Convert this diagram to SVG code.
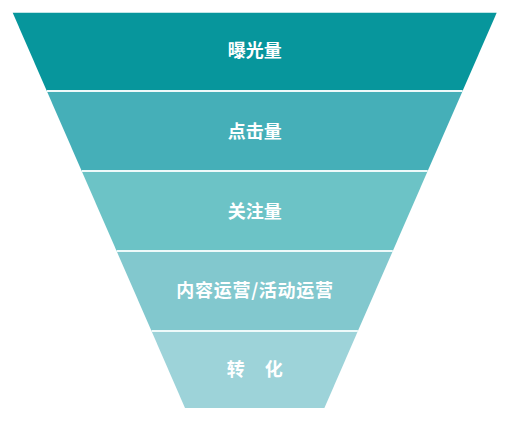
<svg xmlns="http://www.w3.org/2000/svg" width="505" height="423" viewBox="0 0 505 423">
<style>
.lbl{font-family:"Noto Sans CJK SC","Noto Sans",sans-serif;font-size:18px;font-weight:bold;fill:#ffffff;text-anchor:middle;dominant-baseline:central}
.sep{stroke:#eefafa;stroke-width:2}
</style>
<rect width="505" height="423" fill="#ffffff"/>
<g id="band1">
<polygon points="12.7,12.7 496.7,12.7 462.6,91 46.8,91" fill="#07969c"/>
<text class="lbl" x="254.7" y="49">曝光量</text>
</g>
<g id="band2">
<polygon points="46.8,91 462.6,91 427.7,171 81.7,171" fill="#45afb8"/>
<text class="lbl" x="254.7" y="130">点击量</text>
</g>
<g id="band3">
<polygon points="81.7,171 427.7,171 392.8,251 116.6,251" fill="#6cc3c6"/>
<text class="lbl" x="254.7" y="210">关注量</text>
</g>
<g id="band4">
<polygon points="116.6,251 392.8,251 357.9,331 151.5,331" fill="#82c8ce"/>
<text class="lbl" x="255" y="289" letter-spacing="0.7">内容运营/活动运营</text>
</g>
<g id="band5">
<polygon points="151.5,331 357.9,331 324.4,408 185,408" fill="#9dd3d9"/>
<text class="lbl" x="254.7" y="368" word-spacing="16">转 化</text>
</g>
<g id="connectors">
<line class="sep" x1="46.8" y1="91" x2="462.6" y2="91"/>
<line class="sep" x1="81.7" y1="171" x2="427.7" y2="171"/>
<line class="sep" x1="116.6" y1="251" x2="392.8" y2="251"/>
<line class="sep" x1="151.5" y1="331" x2="357.9" y2="331"/>
</g>
</svg>
